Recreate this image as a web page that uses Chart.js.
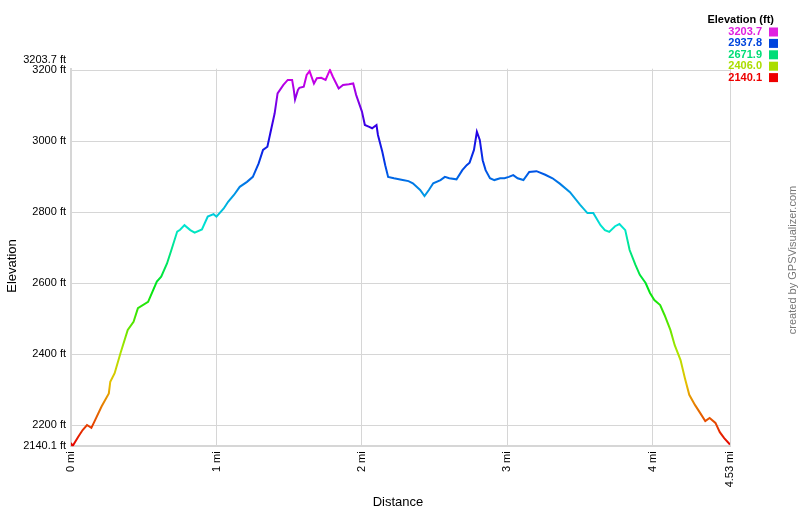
<!DOCTYPE html>
<html>
<head>
<meta charset="utf-8">
<script src="https://cdn.jsdelivr.net/npm/chart.js@4"></script>
<style>
  html, body { margin: 0; padding: 0; background: #fff; }
  #chart { display: block; }
</style>
</head>
<body>
<canvas id="chart" width="800" height="517"></canvas>
<script>
// distance along the track (mi) and elevation (ft)
const distMi = [
  0, 0.01, 0.05, 0.08, 0.11, 0.14, 0.16, 0.21, 0.26, 0.27, 0.30, 0.34, 0.39, 0.43, 0.46, 0.53,
  0.59, 0.62, 0.66, 0.69, 0.73, 0.75, 0.78, 0.82, 0.85, 0.90, 0.94, 0.98, 1.00, 1.05, 1.08,
  1.12, 1.16, 1.21, 1.25, 1.29, 1.32, 1.35, 1.37, 1.40, 1.42, 1.46, 1.49, 1.52, 1.53, 1.54,
  1.56, 1.57, 1.60, 1.62, 1.64, 1.67, 1.69, 1.72, 1.75, 1.77, 1.78, 1.80, 1.84, 1.87, 1.91,
  1.94, 1.96, 2.00, 2.02, 2.05, 2.07, 2.10, 2.11, 2.14, 2.16, 2.18, 2.22, 2.28, 2.32, 2.35,
  2.40, 2.43, 2.46, 2.49, 2.54, 2.57, 2.60, 2.65, 2.69, 2.72, 2.74, 2.77, 2.79, 2.81, 2.83,
  2.85, 2.88, 2.91, 2.95, 2.98, 3.01, 3.04, 3.07, 3.11, 3.15, 3.20, 3.26, 3.31, 3.36, 3.43,
  3.50, 3.55, 3.59, 3.64, 3.67, 3.70, 3.74, 3.77, 3.81, 3.84, 3.88, 3.91, 3.95, 3.98, 4.01,
  4.05, 4.08, 4.12, 4.15, 4.19, 4.22, 4.25, 4.29, 4.32, 4.36, 4.39, 4.43, 4.46, 4.49, 4.53,
];
const elevFt = [
  2150, 2140, 2167, 2186, 2200, 2192, 2209, 2252, 2289, 2322, 2346, 2402, 2468, 2491, 2529, 2547,
  2604, 2618, 2655, 2693, 2745, 2750, 2763, 2749, 2742, 2751, 2787, 2794, 2787, 2810, 2829,
  2848, 2871, 2885, 2899, 2937, 2975, 2984, 3022, 3078, 3134, 3158, 3172, 3172, 3148, 3117,
  3144, 3150, 3153, 3186, 3197, 3162, 3177, 3178, 3172, 3191, 3200, 3181, 3148, 3158, 3160,
  3162, 3130, 3083, 3045, 3040, 3036, 3045, 3017, 2970, 2932, 2899, 2895, 2890, 2887, 2881,
  2862, 2845, 2862, 2881, 2890, 2899, 2895, 2892, 2918, 2932, 2939, 2975, 3026, 3003, 2946,
  2918, 2895, 2890, 2895, 2895, 2899, 2904, 2895, 2890, 2913, 2915, 2905, 2895, 2880, 2856,
  2820, 2797, 2797, 2763, 2749, 2744, 2760, 2766, 2749, 2693, 2651, 2623, 2600, 2572, 2552,
  2538, 2510, 2468, 2425, 2383, 2332, 2285, 2256, 2237, 2211, 2220, 2206, 2180, 2163, 2145,
];

const xTicks = [0, 1, 2, 3, 4, 4.53];
const yTicks = [2140.1, 2200, 2400, 2600, 2800, 3000, 3200, 3203.7];
const legendValues = ['3203.7', '2937.8', '2671.9', '2406.0', '2140.1'];
const legendColors = ['#e020e0', '#0044dd', '#00dd77', '#aadd00', '#ee0000'];

const minElev = 2140.1;
const maxElev = 3203.7;
const font = 'Arial, "Liberation Sans", sans-serif';

// hue runs red (low) to magenta (high), same as the legend
function elevGradient(ctx) {
  const { chart } = ctx;
  if (!chart.chartArea) return '#e00';
  const y = chart.scales.y;
  const g = chart.ctx.createLinearGradient(0, y.getPixelForValue(minElev), 0, y.getPixelForValue(maxElev));
  for (let i = 0; i <= 12; i += 1) {
    g.addColorStop(i / 12, `hsl(${i * 25}, 100%, 45%)`);
  }
  return g;
}

const extras = {
  id: 'extras',
  afterDraw(chart) {
    const c = chart.ctx;
    c.save();
    c.fillStyle = '#000';
    c.font = `13px ${font}`;
    c.textAlign = 'center';
    c.textBaseline = 'middle';
    c.fillText('Distance', 398, 502);
    c.save();
    c.translate(12, 266);
    c.rotate(-Math.PI / 2);
    c.fillText('Elevation', 0, 0);
    c.restore();

    c.fillStyle = '#777';
    c.font = `11px ${font}`;
    c.save();
    c.translate(793, 260);
    c.rotate(-Math.PI / 2);
    c.fillText('created by GPSVisualizer.com', 0, 0);
    c.restore();

    c.textAlign = 'right';
    c.fillStyle = '#000';
    c.font = `bold 11px ${font}`;
    c.fillText('Elevation (ft)', 774, 20);
    legendValues.forEach((v, i) => {
      const y = 32 + i * 11.4;
      c.fillStyle = legendColors[i];
      c.fillText(v, 762, y);
      c.fillRect(769, y - 4.5, 9, 9);
    });
    c.restore();
  },
};

new Chart(document.getElementById('chart'), {
  type: 'line',
  data: {
    datasets: [{
      data: distMi.map((d, i) => ({ x: d, y: elevFt[i] })),
      borderColor: elevGradient,
      borderWidth: 2,
      pointRadius: 0,
      tension: 0,
      fill: false,
    }],
  },
  options: {
    responsive: false,
    animation: false,
    layout: { padding: { top: 68.7, right: 70, left: 0, bottom: 0 } },
    plugins: { legend: { display: false }, tooltip: { enabled: false } },
    scales: {
      x: {
        type: 'linear',
        min: 0,
        max: 4.53,
        afterBuildTicks: (axis) => { axis.ticks = xTicks.map((v) => ({ value: v })); },
        afterFit: (axis) => { axis.height = 70.7; },
        ticks: {
          minRotation: 90,
          maxRotation: 90,
          padding: 5,
          color: '#000',
          font: { family: font, size: 11 },
          callback: (v) => `${v} mi`,
        },
        grid: { color: '#d6d6d6', lineWidth: 1, drawTicks: false },
        border: { color: '#d6d6d6', width: 2 },
      },
      y: {
        min: minElev,
        max: maxElev,
        afterBuildTicks: (axis) => { axis.ticks = yTicks.map((v) => ({ value: v })); },
        afterFit: (axis) => { axis.width = 71; },
        ticks: {
          padding: 5,
          color: '#000',
          font: (ctx) => ({
            family: font,
            size: 11,
            lineHeight: ctx.tick && ctx.tick.value === maxElev ? 1.5 : 1.2,
          }),
          callback: (v) => (v === maxElev ? [`${v} ft`, ''] : `${v} ft`),
        },
        grid: {
          color: (ctx) => (ctx.tick && (ctx.tick.value === maxElev || ctx.tick.value === minElev) ? 'rgba(0,0,0,0)' : '#d6d6d6'),
          lineWidth: 1,
          drawTicks: false,
        },
        border: { color: '#d6d6d6', width: 2 },
      },
    },
  },
  plugins: [extras],
});
</script>
</body>
</html>
